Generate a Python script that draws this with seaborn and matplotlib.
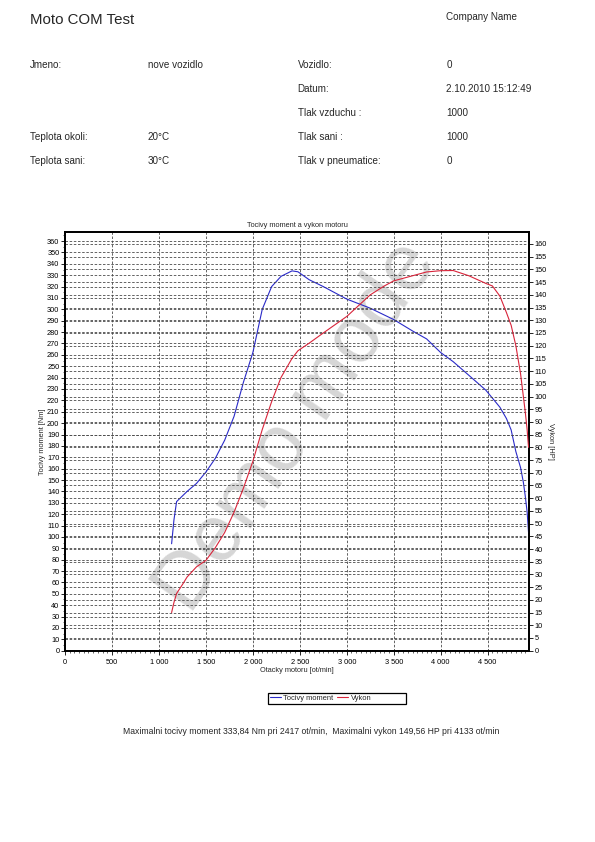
import matplotlib
matplotlib.use("Agg")
import matplotlib.pyplot as plt
import matplotlib.ticker as mticker
from matplotlib.lines import Line2D
from matplotlib.patches import Rectangle
import seaborn as sns
import numpy as np

# ---- data ----
rpm = [1135, 1160, 1188, 1250, 1300, 1400, 1500, 1600, 1700, 1800, 1900, 2000,
       2100, 2200, 2300, 2417, 2480, 2600, 2750, 3000, 3250, 3400, 3500, 3700,
       3850, 4000, 4133, 4300, 4480, 4550, 4630, 4700, 4750, 4800, 4850, 4880,
       4900, 4920, 4935]
torque_nm = [94, 115, 131, 136, 140, 147, 157, 169, 185, 206, 236, 262,
             300, 320, 329, 333.8, 333, 326, 320, 309, 301, 295, 291, 281,
             274, 262, 254, 242, 229, 222, 214, 204, 194, 175, 161, 148,
             136, 122, 104]
power_hp = [15, 19, 22.5, 26, 29, 33, 35.5, 40.5, 46.5, 54.5, 64, 74.5,
            87, 98, 107.5, 115, 118, 121, 125, 131.5, 140, 143.5, 145.5, 147.5,
            149, 149.5, 149.56, 147.5, 144.5, 143.5, 139.5, 133, 128, 120, 109, 100,
            94, 87, 80]

series_names = ["Tocivy moment", "Vykon"]
header_left = [("Jmeno:", "nove vozidlo", 65.5), ("Teplota okoli:", "20°C", 136.5),
               ("Teplota sani:", "30°C", 160.5)]
header_right = [("Vozidlo:", "0", 65.5), ("Datum:", "2.10.2010 15:12:49", 89.5),
                ("Tlak vzduchu :", "1000", 113), ("Tlak sani :", "1000", 136.5),
                ("Tlak v pneumatice:", "0", 160.5)]

sns.set_style("white")
plt.rcParams['font.family'] = ['Liberation Sans', 'DejaVu Sans']

W, H = 595, 842
fig = plt.figure(figsize=(W / 100, H / 100), dpi=100)

def fx(px):
    return px / W

def fy(py):
    return 1 - py / H

# header
hfs = 7.1
fig.text(fx(30), fy(20), "Moto COM Test", fontsize=10.8, va="center", ha="left")
fig.text(fx(446.5), fy(17.5), "Company Name", fontsize=hfs, va="center", ha="left")
for lab, val, y in header_left:
    fig.text(fx(30), fy(y), lab, fontsize=hfs, va="center")
    fig.text(fx(148), fy(y), val, fontsize=hfs, va="center")
for lab, val, y in header_right:
    fig.text(fx(297.5), fy(y), lab, fontsize=hfs, va="center")
    fig.text(fx(446.5), fy(y), val, fontsize=hfs, va="center")

# watermark (drawn beneath the axes content)
fig.text(fx(297), fy(427), "Demo mode", fontsize=57, color="#d6d6d6",
         rotation=55, ha="center", va="center", rotation_mode="anchor", zorder=-1)

# axes
left, right, top, bottom = 65, 529, 232.3, 650.7
ax = fig.add_axes([fx(left), fy(bottom), fx(right - left), (bottom - top) / H])
ax2 = ax.twinx()
ax.patch.set_alpha(0)
ax2.patch.set_alpha(0)

ax.set_xlim(0, 4940)
ax.set_ylim(0, 367.7)
ax2.set_ylim(0, 164.6)

# grids
grid_kw = dict(color="#4a4a4a", linestyle=(0, (3, 2)), linewidth=0.6)
for v in np.arange(500, 4940, 500):
    ax.axvline(v, zorder=0, **grid_kw)
for v in np.arange(10, 361, 10):
    ax.axhline(v, zorder=0, **grid_kw)
for v in np.arange(5, 161, 5):
    ax2.axhline(v, zorder=0, **grid_kw)

blue = "#2a2ac8"
red = "#d8243a"
sns.lineplot(x=rpm, y=torque_nm, ax=ax, color=blue, linewidth=0.8, zorder=3)
sns.lineplot(x=rpm, y=power_hp, ax=ax2, color=red, linewidth=0.8, zorder=3)

# ticks
ax.set_xticks(np.arange(0, 4940, 500))
ax.xaxis.set_major_formatter(mticker.FuncFormatter(
    lambda v, p: f"{int(v):,}".replace(",", " ")))
ax.xaxis.set_minor_locator(mticker.MultipleLocator(50))
ax.set_yticks(np.arange(0, 361, 10))
ax.yaxis.set_minor_locator(mticker.MultipleLocator(5))
ax2.set_yticks(np.arange(0, 161, 5))
for a in (ax, ax2):
    a.tick_params(axis="both", which="major", labelsize=5.3, length=3, width=0.6,
                  pad=1, direction="out", colors="black")
    a.tick_params(axis="both", which="minor", length=1.5, width=0.5, direction="out")
    for s in a.spines.values():
        s.set_linewidth(1.3)
        s.set_color("black")
ax.tick_params(axis="x", which="major", pad=3)
ax.tick_params(axis="y", left=True, right=False)
ax.tick_params(axis="x", bottom=True, which="both")
ax2.tick_params(axis="y", right=True, left=False)

ax.set_xlabel("Otacky motoru [ot/min]", fontsize=5.3, labelpad=1)
ax.set_ylabel("Tocivy moment [Nm]", fontsize=5.3, labelpad=1)
ax2.set_ylabel("Vykon [HP]", fontsize=5.3, rotation=270, labelpad=5)
ax.set_title("Tocivy moment a vykon motoru", fontsize=5.3, pad=4)

# legend
handles = [Line2D([], [], color=blue, lw=0.8), Line2D([], [], color=red, lw=0.8)]
leg = fig.legend(handles, series_names, loc="center left", bbox_to_anchor=(fx(269), fy(698)),
                 ncol=2, fontsize=5.4, frameon=False,
                 handlelength=1.5, handletextpad=0.3, columnspacing=0.5,
                 borderpad=0.1, borderaxespad=0)
fig.patches.append(Rectangle((fx(268), fy(703.5)), fx(406 - 268), (703.5 - 692.5) / H,
                             transform=fig.transFigure, fill=False,
                             edgecolor="black", linewidth=0.9))

fig.text(fx(311), fy(732),
         "Maximalni tocivy moment 333,84 Nm pri 2417 ot/min,  Maximalni vykon 149,56 HP pri 4133 ot/min",
         fontsize=6.2, ha="center", va="center")

fig.savefig("out.png", dpi=100)
